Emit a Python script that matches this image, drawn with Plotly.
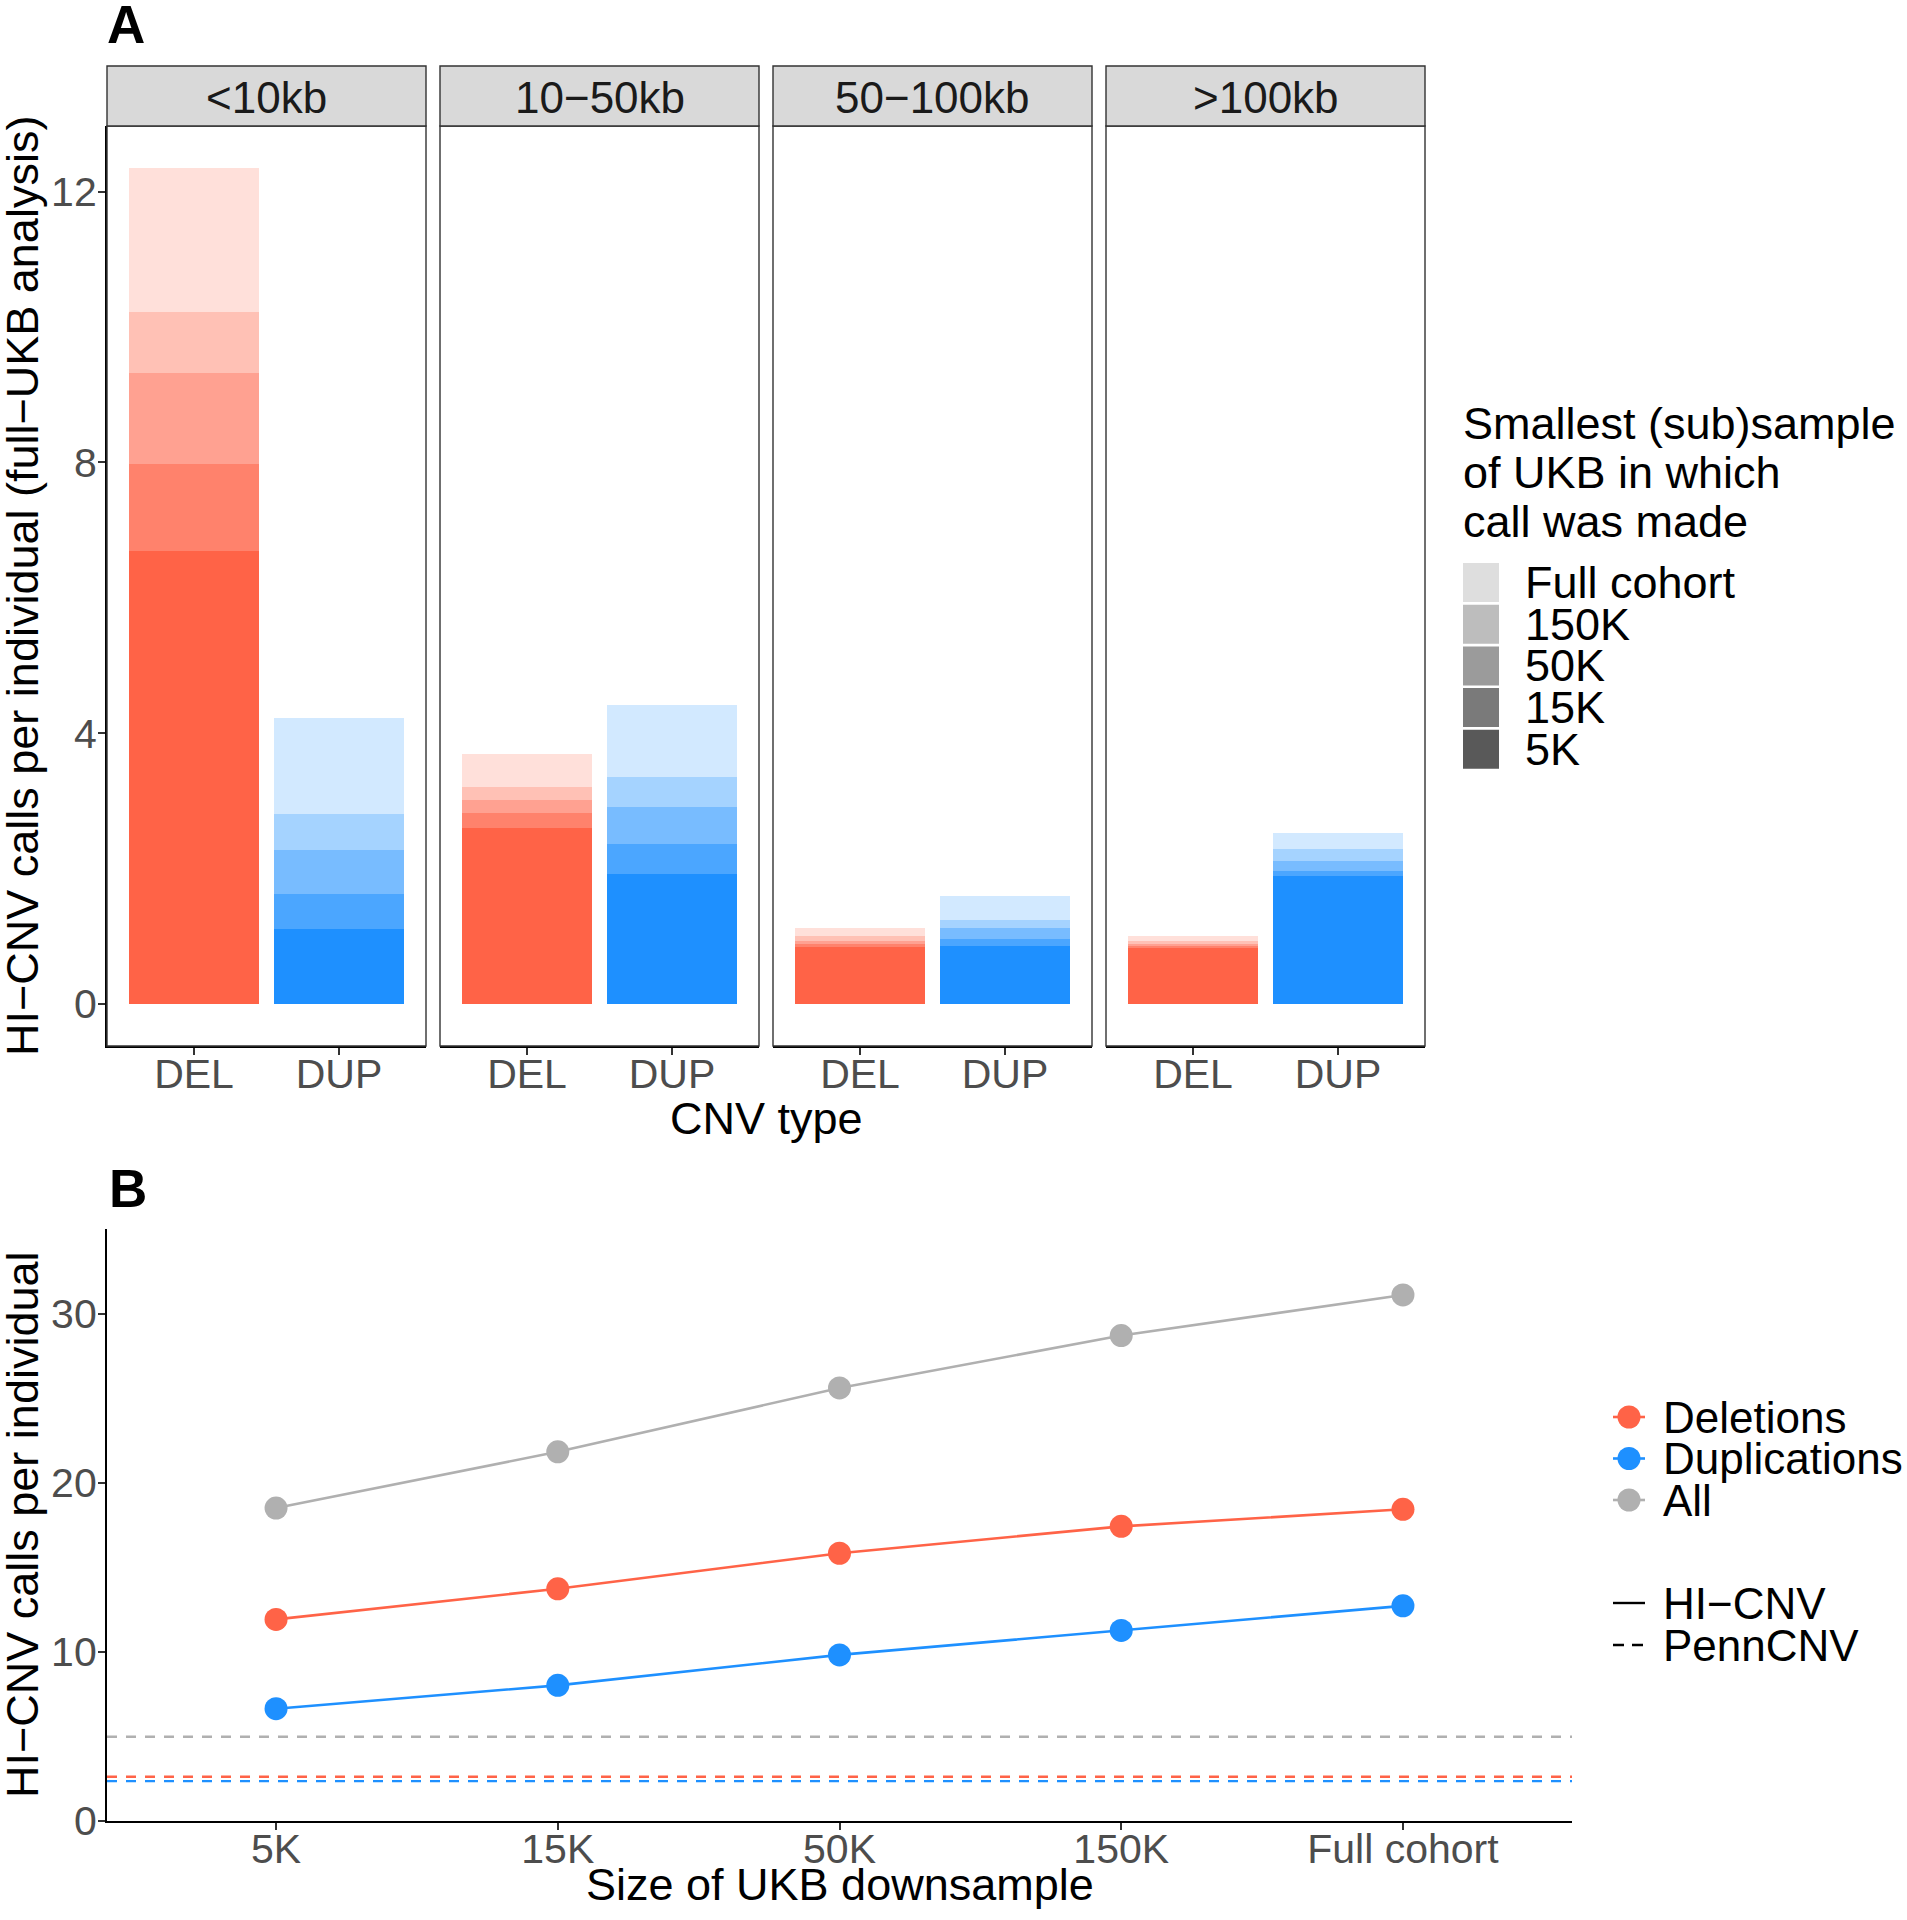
import plotly.graph_objects as go

W, H = 1907, 1920
# the captured page comes out slightly squeezed vertically; place everything on that squeezed grid
K = 1897 / 1920
FONT = "Liberation Sans, Arial, sans-serif"

# ---- panel A data: cumulative calls per individual, stacked from 5K (bottom) to full cohort (top)
size_bins = ["<10kb", "10\u221250kb", "50\u2212100kb", ">100kb"]
cnv_types = ["DEL", "DUP"]
tiers = ["5K", "15K", "50K", "150K", "Full cohort"]
tier_alpha = [1.0, 0.8, 0.6, 0.4, 0.2]

del_cum = [
    [6.69, 7.98, 9.32, 10.22, 12.35],
    [2.60, 2.82, 3.01, 3.20, 3.70],
    [0.84, 0.89, 0.93, 1.00, 1.13],
    [0.83, 0.86, 0.88, 0.93, 1.00],
]
dup_cum = [
    [1.11, 1.62, 2.28, 2.81, 4.23],
    [1.92, 2.36, 2.91, 3.35, 4.41],
    [0.86, 0.96, 1.12, 1.24, 1.60],
    [1.89, 1.97, 2.11, 2.29, 2.53],
]

# ---- panel B data
downsample = ["5K", "15K", "50K", "150K", "Full cohort"]
hicnv_del = [11.92, 13.73, 15.83, 17.42, 18.43]
hicnv_dup = [6.64, 8.02, 9.82, 11.27, 12.72]
hicnv_all = [18.5, 21.83, 25.6, 28.7, 31.1]
penncnv_del = 2.62
penncnv_dup = 2.36
penncnv_all = 4.98

DEL_RGB = (255, 99, 71)
DUP_RGB = (30, 144, 255)
ALL_COL = "#B0B0B0"


def rgba(rgb, a):
    return "rgba(%d,%d,%d,%.2f)" % (rgb[0], rgb[1], rgb[2], a)


def px(p):
    return p / W


def py(p):
    return 1 - p / (H * K)


fig = go.Figure()

facet_x = [(107, 426), (440, 759), (773, 1092), (1106, 1425)]
A_top, A_bot = 126, 1046

for i in range(4):
    ax = "" if i == 0 else str(i + 1)
    for j, tier in enumerate(tiers):
        d_inc = del_cum[i][j] - (del_cum[i][j - 1] if j else 0)
        u_inc = dup_cum[i][j] - (dup_cum[i][j - 1] if j else 0)
        fig.add_trace(go.Bar(
            x=cnv_types, y=[d_inc, u_inc], width=0.9,
            marker=dict(color=[rgba(DEL_RGB, tier_alpha[j]), rgba(DUP_RGB, tier_alpha[j])],
                        line=dict(width=0)),
            xaxis="x" + ax, yaxis="y" + ax, showlegend=False, name=tier,
        ))

tickfont = dict(family=FONT, size=41, color="#4D4D4D")
layout = {}
for i in range(4):
    ax = "" if i == 0 else str(i + 1)
    layout["xaxis" + ax] = dict(
        domain=[px(facet_x[i][0]), px(facet_x[i][1])], anchor="y" + ax,
        type="category", categoryarray=cnv_types, range=[-0.6, 1.6],
        showline=True, linecolor="black", linewidth=2.2, ticks="outside",
        ticklen=7, tickwidth=2, tickcolor="#333333", tickfont=tickfont,
        ticklabelstandoff=-16, showgrid=False, zeroline=False,
    )
    layout["yaxis" + ax] = dict(
        domain=[py(A_bot), py(A_top)], anchor="x" + ax,
        range=[-0.62, 12.97], tickvals=[0, 4, 8, 12],
        showline=(i == 0), linecolor="black", linewidth=2.2,
        ticks="outside" if i == 0 else "", ticklen=7, tickwidth=2, tickcolor="#333333",
        showticklabels=(i == 0), tickfont=tickfont, ticklabelstandoff=-7,
        showgrid=False, zeroline=False,
    )
    if i > 0:
        layout["yaxis" + ax]["matches"] = "y"

# panel B
B_left, B_right, B_top, B_bot = 107, 1572, 1229, 1821
layout["xaxis5"] = dict(
    domain=[px(B_left), px(B_right)], anchor="y5", type="category",
    categoryarray=downsample, range=[-0.6, 4.6],
    showline=True, linecolor="black", linewidth=2.2, ticks="outside",
    ticklen=7, tickwidth=2, tickcolor="#333333", tickfont=tickfont,
    ticklabelstandoff=-16, showgrid=False, zeroline=False,
)
layout["yaxis5"] = dict(
    domain=[py(B_bot), py(B_top)], anchor="x5", range=[0, 35],
    tickvals=[0, 10, 20, 30],
    showline=True, linecolor="black", linewidth=2.2, ticks="outside",
    ticklen=7, tickwidth=2, tickcolor="#333333", tickfont=tickfont,
    ticklabelstandoff=-7, showgrid=False, zeroline=False,
)

for name, vals, col in [("All", hicnv_all, ALL_COL),
                        ("Deletions", hicnv_del, rgba(DEL_RGB, 1)),
                        ("Duplications", hicnv_dup, rgba(DUP_RGB, 1))]:
    fig.add_trace(go.Scatter(
        x=downsample, y=vals, mode="lines+markers", name=name,
        line=dict(color=col, width=2.6), marker=dict(color=col, size=23),
        xaxis="x5", yaxis="y5", showlegend=False,
    ))

shapes = []
# PennCNV reference lines
for val, col in [(penncnv_all, ALL_COL), (penncnv_del, rgba(DEL_RGB, 1)), (penncnv_dup, rgba(DUP_RGB, 1))]:
    shapes.append(dict(type="line", xref="x5 domain", yref="y5", x0=0, x1=1, y0=val, y1=val,
                       line=dict(color=col, width=2.4, dash="10px,9px"), layer="below"))

# facet borders and strips
for i in range(4):
    ax = "" if i == 0 else str(i + 1)
    shapes.append(dict(type="rect", xref="x%s domain" % ax, yref="y%s domain" % ax,
                       x0=0, x1=1, y0=0, y1=1, line=dict(color="#333333", width=1.4)))
    shapes.append(dict(type="rect", xref="paper", yref="paper",
                       x0=px(facet_x[i][0]), x1=px(facet_x[i][1]), y0=py(A_top), y1=py(66),
                       fillcolor="#D9D9D9", line=dict(color="#333333", width=1.4)))

annotations = []


def note(text, x, y, size=45, color="black", xanchor="center", angle=0):
    annotations.append(dict(text=text, x=px(x), y=py(y), xref="paper", yref="paper",
                            xanchor=xanchor, yanchor="middle", showarrow=False, textangle=angle,
                            font=dict(family=FONT, size=size, color=color)))


for i in range(4):
    note(size_bins[i], (facet_x[i][0] + facet_x[i][1]) / 2, 97, size=44, color="#1A1A1A")

note("<b>A</b>", 105, 25, size=53, xanchor="left")
note("<b>B</b>", 107, 1188, size=53, xanchor="left")
note("CNV type", 766, 1118)
note("HI\u2212CNV calls per individual (full\u2212UKB analysis)", 22, 586, angle=-90)
note("Size of UKB downsample", 840, 1884)
note("HI\u2212CNV calls per individual", 22, 1525, angle=-90)

# legend A (alpha legend)
for k, line in enumerate(["Smallest (sub)sample", "of UKB in which", "call was made"]):
    note(line, 1461, 423 + 49 * k, xanchor="left")
key_cols = ["#DEDEDE", "#BDBDBD", "#9B9B9B", "#7A7A7A", "#595959"]
key_labels = tiers[::-1]
for k in range(5):
    yc = 582.5 + 41.7 * k
    shapes.append(dict(type="rect", xref="paper", yref="paper",
                       x0=px(1463), x1=px(1499), y0=py(yc + 19.5), y1=py(yc - 19.5),
                       fillcolor=key_cols[k], line=dict(width=0)))
    note(key_labels[k], 1523, yc, xanchor="left")

# legend B
for k, (lab, col) in enumerate([("Deletions", rgba(DEL_RGB, 1)),
                                 ("Duplications", rgba(DUP_RGB, 1)),
                                 ("All", ALL_COL)]):
    yc = 1417 + 41.5 * k
    shapes.append(dict(type="line", xref="paper", yref="paper", x0=px(1613), x1=px(1645),
                       y0=py(yc), y1=py(yc), line=dict(color=col, width=2.6)))
    shapes.append(dict(type="circle", xref="paper", yref="paper",
                       x0=px(1629 - 11.5), x1=px(1629 + 11.5), y0=py(yc + 11.5), y1=py(yc - 11.5),
                       fillcolor=col, line=dict(width=0)))
    note(lab, 1661, yc, size=44, xanchor="left")

shapes.append(dict(type="line", xref="paper", yref="paper", x0=px(1613), x1=px(1645),
                   y0=py(1603), y1=py(1603), line=dict(color="black", width=2.4)))
shapes.append(dict(type="line", xref="paper", yref="paper", x0=px(1613), x1=px(1645),
                   y0=py(1645), y1=py(1645), line=dict(color="black", width=2.4, dash="11px,8px")))
note("HI\u2212CNV", 1661, 1603, size=44, xanchor="left")
note("PennCNV", 1661, 1645, size=44, xanchor="left")

fig.update_layout(
    width=W, height=H, margin=dict(l=0, r=0, t=0, b=0),
    paper_bgcolor="white", plot_bgcolor="white", barmode="stack", bargap=0,
    font=dict(family=FONT), shapes=shapes, annotations=annotations, **layout,
)

# pin the plot to the top-left corner of the page
pin = ("document.documentElement.style.overflow='hidden';"
       "document.body.style.margin='0px';document.body.style.overflow='hidden';"
       "var gd=document.getElementById('{plot_id}');"
       "gd.style.position='fixed';gd.style.left='0px';gd.style.top='0px';")

fig.write_html("out.html", config={"displayModeBar": False}, post_script=pin)
